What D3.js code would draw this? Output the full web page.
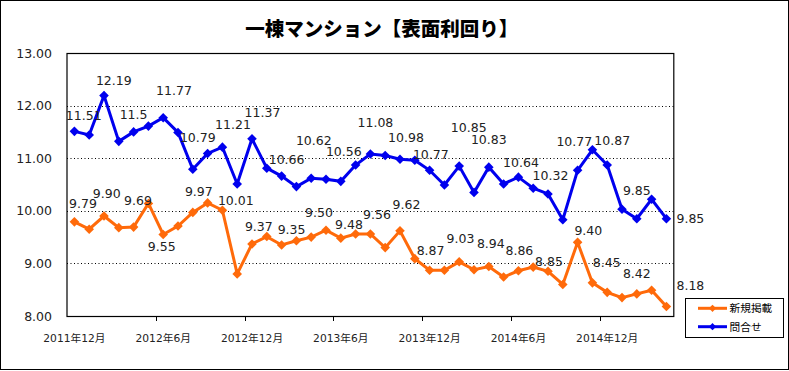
<!DOCTYPE html>
<html><head><meta charset="utf-8">
<script src="https://cdn.jsdelivr.net/npm/d3@7/dist/d3.min.js"></script>
<style>
body{margin:0;background:#fff;}
svg{display:block;}
text{font-family:"DejaVu Sans","Noto Sans CJK JP",sans-serif;}
</style></head>
<body>
<svg id="chart" width="789" height="371"></svg>
<script>
const title = "一棟マンション【表面利回り】";
const categories = [
  "2011年12月",
  "2012年1月","2012年2月","2012年3月","2012年4月","2012年5月","2012年6月",
  "2012年7月","2012年8月","2012年9月","2012年10月","2012年11月","2012年12月",
  "2013年1月","2013年2月","2013年3月","2013年4月","2013年5月","2013年6月",
  "2013年7月","2013年8月","2013年9月","2013年10月","2013年11月","2013年12月",
  "2014年1月","2014年2月","2014年3月","2014年4月","2014年5月","2014年6月",
  "2014年7月","2014年8月","2014年9月","2014年10月","2014年11月","2014年12月",
  "2015年1月","2015年2月","2015年3月","2015年4月"
];
const xTickLabels = ["2011年12月","2012年6月","2012年12月","2013年6月","2013年12月","2014年6月","2014年12月"];
const seriesNames = ["新規掲載","問合せ"];
const newListings = [9.79,9.65,9.90,9.68,9.69,10.14,9.55,9.71,9.97,10.15,10.01,8.80,9.37,9.51,9.35,9.43,9.50,9.63,9.48,9.56,9.56,9.30,9.62,9.09,8.87,8.87,9.03,8.88,8.94,8.74,8.86,8.93,8.85,8.60,9.40,8.63,8.45,8.35,8.42,8.49,8.18];
const inquiries = [11.51,11.44,12.19,11.32,11.5,11.61,11.77,11.49,10.79,11.09,11.21,10.51,11.37,10.81,10.66,10.46,10.62,10.60,10.56,10.87,11.08,11.05,10.98,10.96,10.77,10.49,10.85,10.35,10.83,10.51,10.64,10.43,10.32,9.83,10.77,11.16,10.87,10.03,9.85,10.22,9.85];
const yTicks = [8,9,10,11,12,13];
// data label texts (every other point)
const newLabelIdx = [0,2,4,6,8,10,12,14,16,18,20,22,24,26,28,30,32,34,36,38,40];
const newLabelText = ["9.79","9.90","9.69","9.55","9.97","10.01","9.37","9.35","9.50","9.48","9.56","9.62","8.87","9.03","8.94","8.86","8.85","9.40","8.45","8.42","8.18"];
const inqLabelIdx = [0,2,4,6,8,10,12,14,16,18,20,22,24,26,28,30,32,34,36,38,40];
const inqLabelText = ["11.51","12.19","11.5","11.77","10.79","11.21","11.37","10.66","10.62","10.56","11.08","10.98","10.77","10.85","10.83","10.64","10.32","10.77","10.87","9.85","9.85"];

// layout: label nudges relative to point (dx, dy of label centre)
const newNudge = [[8.6,-18],[2.7,-23],[4.4,-27],[-1.5,12],[6,-20.6],[13.4,-10],[6.8,-17],[10,-15],[7.8,-24.4],[8.2,-13.3],[6.6,-19.7],[6.5,-26],[1,-19.3],[1.3,-23],[2,-23.4],[1,-20],[1,-10],[10.7,-11.7],[-0.5,-29.4],[0,-20.3],[24,-21]];
const inqNudge = [[9.3,-16],[9.8,-15],[0,-17],[10.8,-27],[5,-32],[10.6,-23],[10.5,-26],[5,-17],[2.6,-37.6],[3,-30],[5,-31],[6,-21.6],[1.2,-16],[9.5,-39],[0,-28],[2.6,-14.6],[2.5,-18.6],[-3.3,-29],[5,-25],[0,-28.6],[24,0]];

const colors = {newL:"#FF6A0A", inq:"#0000EE"};
const svg = d3.select("#chart");
const M = {left:67, right:673.8, top:53, bottom:316};

svg.append("rect").attr("x",0.5).attr("y",0.5).attr("width",788).attr("height",369)
  .attr("fill","#fff").attr("stroke","#000").attr("stroke-width",1);

const x = d3.scaleBand().domain(categories).range([M.left, M.right]).paddingInner(0).paddingOuter(0);
const cx = c => x(c) + x.bandwidth()/2;
const y = d3.scaleLinear().domain([8,13]).range([M.bottom, M.top]);

// title
svg.append("text").attr("x",381.7).attr("y",36).attr("text-anchor","middle")
  .style("font-family","'Noto Sans CJK JP',sans-serif").style("font-weight","900")
  .style("font-size","19.5px").attr("fill","#000").text(title);

// gridlines
svg.append("g").selectAll("line").data(yTicks.filter(v=>v>8 && v<13)).join("line")
  .attr("x1",M.left).attr("x2",M.right).attr("y1",d=>Math.round(y(d))+0.5).attr("y2",d=>Math.round(y(d))+0.5)
  .attr("stroke","#000").attr("stroke-width",1).attr("stroke-dasharray","1,2.5");

// plot border
svg.append("rect").attr("x",M.left).attr("y",Math.round(M.top)+0.5).attr("width",M.right-M.left).attr("height",M.bottom-M.top)
  .attr("fill","none").attr("stroke","#000").attr("stroke-width",1.2);

// y axis labels
const yAxis = d3.axisLeft(y).tickValues(yTicks).tickFormat(d3.format(".2f")).tickSize(0).tickPadding(15);
const gy = svg.append("g").attr("transform",`translate(${M.left},0)`).call(yAxis);
gy.select(".domain").remove();
gy.selectAll("text").style("font-size","12.5px").style("font-family","'DejaVu Sans',sans-serif").attr("fill","#222");

// x axis labels
const xAxis = d3.axisBottom(x).tickValues(xTickLabels).tickSize(0).tickPadding(18);
const gx = svg.append("g").attr("transform",`translate(0,${M.bottom})`).call(xAxis);
gx.select(".domain").remove();
gx.selectAll("text").style("font-size","10.7px").attr("fill","#222");
// x tick marks at category boundaries
svg.append("g").selectAll("line").data(xTickLabels.slice(1)).join("line")
  .attr("x1",d=>Math.round(x(d))+0.5).attr("x2",d=>Math.round(x(d))+0.5)
  .attr("y1",M.bottom).attr("y2",M.bottom+5).attr("stroke","#000").attr("stroke-width",1);

const line = d3.line().x((d,i)=>cx(categories[i])).y(d=>y(d));
const diamond = d3.symbol().type(d3.symbolDiamond2 || d3.symbolSquare2).size(50);

function drawSeries(vals, color){
  const g = svg.append("g");
  g.append("path").datum(vals).attr("d",line).attr("fill","none").attr("stroke",color)
    .attr("stroke-width",3).attr("stroke-linejoin","miter");
  g.selectAll("path.m").data(vals).join("path").attr("class","m")
    .attr("d",d3.symbol().type(d3.symbolSquare).size(46))
    .attr("transform",(d,i)=>`translate(${cx(categories[i])},${y(d)}) rotate(45)`)
    .attr("fill",color);
}
drawSeries(newListings, colors.newL);
drawSeries(inquiries, colors.inq);

function drawLabels(vals, idx, texts, nudge){
  svg.append("g").selectAll("text").data(idx).join("text")
    .attr("x",(d,k)=>cx(categories[d])+nudge[k][0])
    .attr("y",(d,k)=>y(vals[d])+nudge[k][1]+4.5)
    .attr("text-anchor","middle")
    .style("font-size","12.5px").attr("fill","#222")
    .text((d,k)=>texts[k]);
}
drawLabels(newListings, newLabelIdx, newLabelText, newNudge);
drawLabels(inquiries, inqLabelIdx, inqLabelText, inqNudge);

// legend
const lg = svg.append("g");
lg.append("rect").attr("x",685.5).attr("y",298.5).attr("width",98).attr("height",39)
  .attr("fill","#fff").attr("stroke","#000").attr("stroke-width",1);
const legendItems = [{name:seriesNames[0],color:colors.newL,y:308.3},{name:seriesNames[1],color:colors.inq,y:326.7}];
legendItems.forEach(it=>{
  lg.append("line").attr("x1",698).attr("x2",727).attr("y1",it.y).attr("y2",it.y)
    .attr("stroke",it.color).attr("stroke-width",3);
  lg.append("path").attr("d",d3.symbol().type(d3.symbolSquare).size(26)())
    .attr("transform",`translate(712.5,${it.y}) rotate(45)`).attr("fill",it.color);
  lg.append("text").attr("x",729.5).attr("y",it.y+4).style("font-size","10.7px")
    .style("font-family","'Noto Sans CJK JP',sans-serif").attr("fill","#000").text(it.name);
});
</script>
</body></html>
